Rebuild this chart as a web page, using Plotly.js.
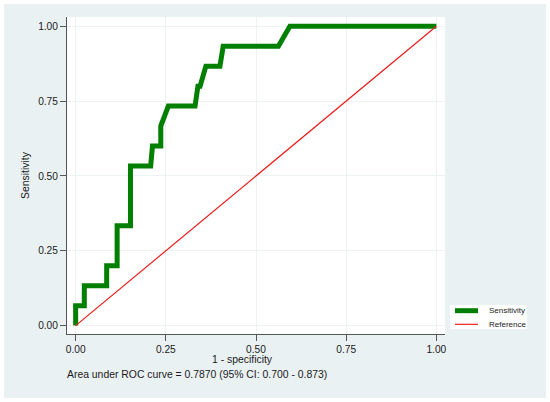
<!DOCTYPE html>
<html>
<head>
<meta charset="utf-8">
<script src="https://cdn.plot.ly/plotly-3.0.1.min.js"></script>
<style>
  html, body { margin: 0; padding: 0; background: #ffffff; }
  #chart { position: absolute; left: 4px; top: 4px; width: 542px; height: 394px; }
</style>
</head>
<body>
<div id="chart"></div>
<script>
// ROC curve points (1 - specificity, sensitivity)
const fpr = [0, 0, 0.024, 0.024, 0.086, 0.086, 0.115, 0.115, 0.152, 0.152, 0.208, 0.213, 0.236, 0.236, 0.257, 0.331, 0.339, 0.345, 0.361, 0.400, 0.409, 0.562, 0.594, 1.0];
const tpr = [0, 0.0667, 0.0667, 0.1333, 0.1333, 0.2, 0.2, 0.3333, 0.3333, 0.5333, 0.5333, 0.6, 0.6, 0.6667, 0.7333, 0.7333, 0.8, 0.8, 0.8667, 0.8667, 0.9333, 0.9333, 1.0, 1.0];
// Reference diagonal
const refX = [0, 1];
const refY = [0, 1];
// Ticks
const tickVals = [0, 0.25, 0.5, 0.75, 1];
const tickText = ["0.00", "0.25", "0.50", "0.75", "1.00"];
const seriesNames = ["Sensitivity", "Reference"];
const noteText = "Area under ROC curve = 0.7870 (95% CI: 0.700 - 0.873)";
const xTitle = "1 - specificity";
const yTitle = "Sensitivity";

const font = "Liberation Sans, Arial, Helvetica, sans-serif";
const green = "#007f00";
const red = "#ee1c1c";
const txt = "#1a1a1a";

const traces = [
  { x: fpr, y: tpr, type: "scatter", mode: "lines", name: seriesNames[0],
    line: { color: green, width: 5, shape: "linear" }, showlegend: false },
  { x: refX, y: refY, type: "scatter", mode: "lines", name: seriesNames[1],
    line: { color: red, width: 1.2 }, showlegend: false }
];

const axisCommon = {
  tickvals: tickVals, ticktext: tickText,
  ticks: "outside", ticklen: 6, tickwidth: 1, tickcolor: "#555555",
  showline: true, linecolor: "#555555", linewidth: 1,
  showgrid: true, gridcolor: "#edf2f3", gridwidth: 1,
  zeroline: false,
  tickfont: { family: font, size: 10.2, color: txt },
  fixedrange: true
};

const layout = {
  width: 542, height: 394,
  margin: { l: 63, r: 101, t: 13, b: 64, pad: 0 },
  paper_bgcolor: "#eaf1f3",
  plot_bgcolor: "#ffffff",
  showlegend: false,
  xaxis: Object.assign({}, axisCommon, { range: [-0.024, 1.024] }),
  yaxis: Object.assign({}, axisCommon, { range: [-0.028, 1.031],
    title: { text: yTitle, font: { family: font, size: 10.4, color: txt }, standoff: 6 } }),
  shapes: [
    // legend box
    { type: "rect", xref: "paper", yref: "paper", x0: 1.0132, x1: 1.2169, y0: 0.0158, y1: 0.0915,
      fillcolor: "#ffffff", line: { width: 0 }, layer: "above" },
    { type: "line", xref: "paper", yref: "paper", x0: 1.0265, x1: 1.0873, y0: 0.0735, y1: 0.0735,
      line: { color: green, width: 5 } },
    { type: "line", xref: "paper", yref: "paper", x0: 1.0265, x1: 1.0873, y0: 0.0306, y1: 0.0306,
      line: { color: red, width: 1.2 } }
  ],
  annotations: [
    { text: seriesNames[0], xref: "paper", yref: "paper", x: 1.1103, y: 0.0735,
      xanchor: "left", yanchor: "middle", showarrow: false,
      font: { family: font, size: 8, color: txt } },
    { text: seriesNames[1], xref: "paper", yref: "paper", x: 1.1103, y: 0.0306,
      xanchor: "left", yanchor: "middle", showarrow: false,
      font: { family: font, size: 8, color: txt } },
    { text: xTitle, xref: "paper", yref: "paper", x: 0.4656, y: -0.082,
      xanchor: "center", yanchor: "middle", showarrow: false,
      font: { family: font, size: 10.4, color: txt } },
    { text: noteText, xref: "paper", yref: "paper", x: -0.0053, y: -0.1293,
      xanchor: "left", yanchor: "middle", showarrow: false,
      font: { family: font, size: 10.4, color: txt } }
  ]
};

Plotly.newPlot("chart", traces, layout, { displayModeBar: false, staticPlot: true });
</script>
</body>
</html>
